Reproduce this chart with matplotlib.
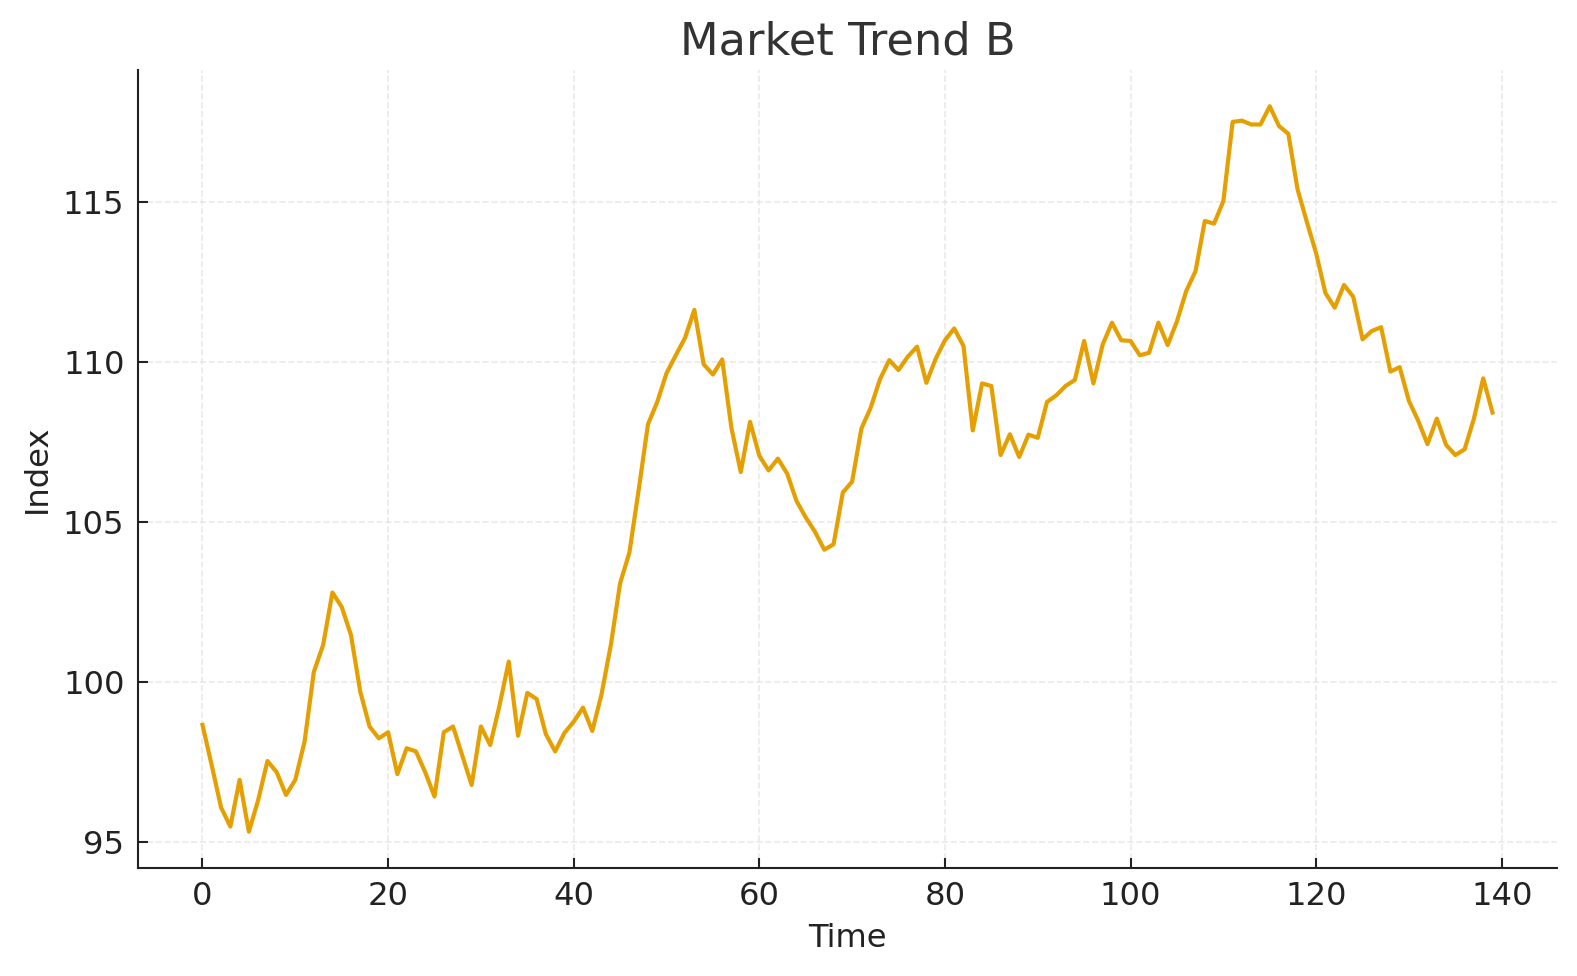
import matplotlib
matplotlib.use("Agg")
import matplotlib.pyplot as plt
import numpy as np

time = list(range(140))
index_values = [
    98.65, 97.38, 96.07, 95.47, 96.93, 95.31, 96.30, 97.52, 97.17, 96.46,
    96.93, 98.13, 100.31, 101.15, 102.79, 102.34, 101.46, 99.69, 98.60, 98.23,
    98.42, 97.11, 97.92, 97.82, 97.17, 96.41, 98.42, 98.60, 97.69, 96.77,
    98.60, 98.02, 99.25, 100.63, 98.31, 99.65, 99.46, 98.36, 97.82, 98.40,
    98.75, 99.19, 98.46, 99.61, 101.15, 103.08, 104.04, 106.0, 108.05, 108.75,
    109.65, 110.21, 110.76, 111.63, 109.93, 109.61, 110.08, 107.93, 106.56, 108.13,
    107.07, 106.61, 106.98, 106.51, 105.66, 105.14, 104.69, 104.13, 104.30, 105.92,
    106.26, 107.92, 108.57, 109.46, 110.06, 109.75, 110.17, 110.48, 109.35, 110.10,
    110.68, 111.05, 110.50, 107.86, 109.33, 109.25, 107.09, 107.74, 107.03, 107.73,
    107.63, 108.75, 108.96, 109.25, 109.44, 110.66, 109.33, 110.55, 111.23, 110.68,
    110.66, 110.21, 110.29, 111.23, 110.53, 111.27, 112.22, 112.84, 114.41, 114.33,
    115.03, 117.51, 117.55, 117.43, 117.43, 118.0, 117.38, 117.14, 115.40, 114.38,
    113.40, 112.16, 111.70, 112.41, 112.04, 110.71, 110.97, 111.09, 109.70, 109.84,
    108.78, 108.16, 107.43, 108.23, 107.41, 107.09, 107.27, 108.23, 109.49, 108.42,
]

title = "Market Trend B"
x_label = "Time"
y_label = "Index"
line_color = "#E69F00"

fig = plt.figure(figsize=(1577 / 150, 976 / 150), dpi=150)
ax = fig.add_axes([0.0875, 0.1107, 0.8998, 0.8176])

ax.plot(time, index_values, color=line_color, linewidth=2.0)

ax.set_title(title, fontsize=21.5, color="#333333", pad=7.5)
ax.set_xlabel(x_label, fontsize=15.5, color="#222222", labelpad=5)
ax.set_ylabel(y_label, fontsize=15.5, color="#222222", labelpad=5)

ax.set_xticks([0, 20, 40, 60, 80, 100, 120, 140])
ax.set_yticks([95, 100, 105, 110, 115])
ax.tick_params(axis="both", direction="in", labelsize=15.5, colors="#222222",
               length=5, width=1.0, pad=6.5)

ax.grid(True, linestyle="--", color="#dddddd", alpha=0.6, linewidth=0.8)
ax.set_axisbelow(True)

for side in ["top", "right"]:
    ax.spines[side].set_visible(False)
for side in ["left", "bottom"]:
    ax.spines[side].set_linewidth(1.0)
    ax.spines[side].set_color("#222222")

fig.savefig("out.png", dpi=150)
